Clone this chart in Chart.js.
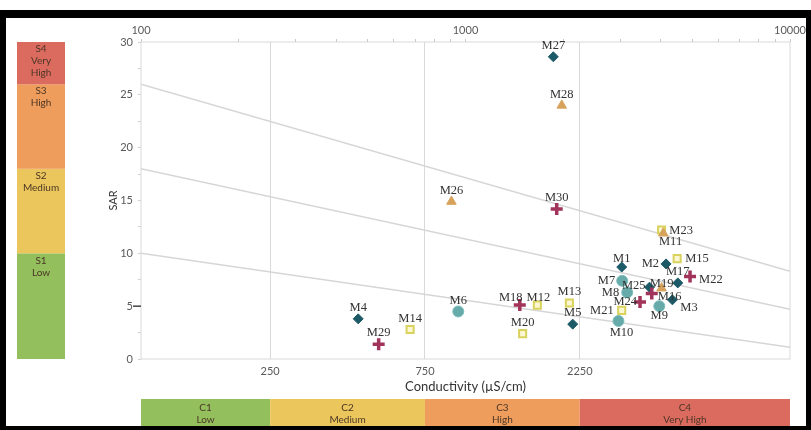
<!DOCTYPE html>
<html>
<head>
<meta charset="utf-8">
<title>Richards diagram</title>
<script src="https://cdn.jsdelivr.net/npm/chart.js@4.4.0/dist/chart.umd.min.js"></script>
<style>
  html, body { margin: 0; padding: 0; background: #fff; }
  #wrap { position: relative; width: 811px; height: 430px; overflow: hidden; }
  #chart { position: absolute; left: 0; top: 0; }
  .frame { position: absolute; background: #000; }
</style>
</head>
<body>
<div id="wrap">
  <canvas id="chart" width="811" height="430"></canvas>
  <div class="frame" style="left:0;top:10px;width:811px;height:8px"></div>
  <div class="frame" style="left:0;top:10px;width:6px;height:420px"></div>
  <div class="frame" style="left:806px;top:10px;width:5px;height:420px"></div>
  <div class="frame" style="left:0;top:426px;width:811px;height:4px"></div>
</div>
<script>
// sample groups (EC in µS/cm, SAR)
const diamondNames = ['M27', 'M4', 'M5', 'M1', 'M2', 'M17', 'M25', 'M3'];
const diamondEC = [1865, 467, 2140, 3030, 4150, 4510, 3690, 4340];
const diamondSAR = [28.6, 3.8, 3.3, 8.7, 9.0, 7.2, 6.8, 5.6];

const triangleNames = ['M28', 'M26', 'M23', 'M19'];
const triangleEC = [1980, 905, 4070, 4020];
const triangleSAR = [24.0, 14.9, 11.9, 6.7];

const plusNames = ['M30', 'M29', 'M18', 'M22', 'M24', 'M16'];
const plusEC = [1910, 540, 1470, 4920, 3450, 3750];
const plusSAR = [14.2, 1.4, 5.1, 7.8, 5.4, 6.2];

const squareNames = ['M14', 'M20', 'M12', 'M13', 'M15', 'M21', 'M11'];
const squareEC = [675, 1500, 1665, 2090, 4490, 3030, 4020];
const squareSAR = [2.8, 2.4, 5.1, 5.3, 9.5, 4.6, 12.2];

const circleNames = ['M6', 'M7', 'M8', 'M9', 'M10'];
const circleEC = [950, 3040, 3150, 3955, 2960];
const circleSAR = [4.5, 7.4, 6.3, 5.0, 3.6];

// sodium hazard boundary lines: SAR at EC = 100 and at EC = 10000
const boundaryStartSAR = [26, 18, 10];
const boundaryEndSAR = [8.3, 4.7, 1.1];

const topTicks = [100, 1000, 10000];
const bottomTicks = [250, 750, 2250];

const sBounds = [0, 10, 18, 26, 30];
const sClasses = [['S1', 'Low'], ['S2', 'Medium'], ['S3', 'High'], ['S4', 'Very', 'High']];
const cBounds = [100, 250, 750, 2250, 10000];
const cClasses = [['C1', 'Low'], ['C2', 'Medium'], ['C3', 'High'], ['C4', 'Very High']];
const classColors = ['#93bf5c', '#ebc65c', '#ef9d5c', '#dc6b5f'];

// where each label sits relative to its marker: [dx, dy, align]
const labelPlace = {
  M23: [6, -3, 'left'], M11: [9, 12, 'center'], M15: [8, 0, 'left'], M2: [-7, 0, 'right'],
  M22: [9, 3, 'left'], M7: [-7, 0, 'right'], M25: [-4, -1, 'right'], M19: [0, -4, 'center'],
  M16: [6, 3, 'left'], M8: [-8, 0, 'right'], M24: [-3, 0, 'right'], M3: [8, 8, 'left'],
  M9: [0, 10, 'center'], M21: [-8, 0, 'right'], M10: [3, 12, 'center'], M18: [-9, -7, 'center'],
  M12: [1, -7, 'center'], M1: [0, -8, 'center']
};

const toPoints = (xs, ys) => xs.map((x, i) => ({ x: x, y: ys[i] }));

const boundaryLines = boundaryStartSAR.map((s, i) => ({
  type: 'line',
  data: [{ x: 100, y: s }, { x: 10000, y: boundaryEndSAR[i] }],
  borderColor: '#d6d6d6',
  borderWidth: 1.5,
  pointRadius: 0,
  showLine: true,
  order: 10
}));

const ticksFont = { family: 'Lato', size: 11 };

const pointLabels = {
  id: 'pointLabels',
  afterDatasetsDraw(chart) {
    const ctx = chart.ctx;
    ctx.save();
    ctx.font = '12.5px "Liberation Serif"';
    ctx.fillStyle = '#333';
    ctx.textBaseline = 'middle';
    chart.data.datasets.forEach((ds, i) => {
      if (!ds.names) return;
      chart.getDatasetMeta(i).data.forEach((pt, j) => {
        const name = ds.names[j];
        const p = labelPlace[name] || [0, -11, 'center'];
        ctx.textAlign = p[2];
        ctx.fillText(name, pt.x + p[0], pt.y + p[1]);
      });
    });
    ctx.restore();
  }
};

const classBands = {
  id: 'classBands',
  beforeDatasetsDraw(chart) {
    const { ctx, chartArea } = chart;
    ctx.save();
    ctx.strokeStyle = '#d9d9d9';
    ctx.lineWidth = 1;
    ctx.strokeRect(chartArea.left, chartArea.top, chartArea.right - chartArea.left, chartArea.bottom - chartArea.top);
    ctx.restore();
  },
  afterDraw(chart) {
    const { ctx, chartArea } = chart;
    const xs = chart.scales.x, ys = chart.scales.y;
    ctx.save();
    ctx.font = '10px Lato';
    ctx.textAlign = 'center';
    ctx.textBaseline = 'middle';
    // salinity classes along the bottom
    for (let i = 0; i < cClasses.length; i++) {
      const x0 = xs.getPixelForValue(cBounds[i]);
      const x1 = xs.getPixelForValue(cBounds[i + 1]);
      ctx.fillStyle = classColors[i];
      ctx.fillRect(x0, 399, x1 - x0, 31);
      ctx.fillStyle = '#4b3626';
      cClasses[i].forEach((t, k) => ctx.fillText(t, (x0 + x1) / 2, 408 + k * 12));
    }
    // sodium classes on the left
    for (let i = 0; i < sClasses.length; i++) {
      const y0 = ys.getPixelForValue(sBounds[i + 1]);
      const y1 = ys.getPixelForValue(sBounds[i]);
      ctx.fillStyle = classColors[i];
      ctx.fillRect(17, y0, 48, y1 - y0);
      ctx.fillStyle = '#4b3626';
      sClasses[i].forEach((t, k) => ctx.fillText(t, 41, y0 + 7 + k * 12));
    }
    // odd dash at SAR 5
    const y5 = ys.getPixelForValue(5);
    ctx.strokeStyle = '#444';
    ctx.lineWidth = 1.5;
    ctx.beginPath();
    ctx.moveTo(chartArea.left - 8, y5);
    ctx.lineTo(chartArea.left, y5);
    ctx.stroke();
    ctx.restore();
  }
};

const minorTop = [];
[100, 1000].forEach(d => { for (let k = 1; k <= 9; k++) minorTop.push(k * d); });
minorTop.push(10000);

new Chart(document.getElementById('chart'), {
  type: 'scatter',
  data: {
    datasets: [
      ...boundaryLines,
      {
        names: squareNames, data: toPoints(squareEC, squareSAR),
        pointStyle: 'rect', pointRadius: 5, backgroundColor: '#fbf7d2', borderColor: '#d9d25c', borderWidth: 2, order: 5
      },
      {
        names: circleNames, data: toPoints(circleEC, circleSAR),
        pointStyle: 'circle', pointRadius: 5.5, backgroundColor: '#66aaa9', borderColor: '#7dbdbb', borderWidth: 1, order: 4
      },
      {
        names: diamondNames, data: toPoints(diamondEC, diamondSAR),
        pointStyle: 'rectRot', pointRadius: 5, backgroundColor: '#1d5a68', borderColor: '#1d5a68', borderWidth: 1, order: 3
      },
      {
        names: plusNames, data: toPoints(plusEC, plusSAR),
        pointStyle: 'cross', pointRadius: 6, borderColor: '#a2335a', borderWidth: 3.5, order: 2
      },
      {
        names: triangleNames, data: toPoints(triangleEC, triangleSAR),
        pointStyle: 'triangle', pointRadius: 5.5, backgroundColor: '#d7a35c', borderColor: '#d7a35c', borderWidth: 1, order: 1
      }
    ]
  },
  options: {
    responsive: false,
    animation: false,
    layout: { padding: { left: 103, right: 21, top: 18, bottom: 31 } },
    plugins: { legend: { display: false }, tooltip: { enabled: false } },
    scales: {
      x: {
        type: 'logarithmic', position: 'bottom', min: 100, max: 10000,
        afterBuildTicks: s => { s.ticks = bottomTicks.map(v => ({ value: v })); },
        afterFit: s => { s.height = 40; },
        grid: { color: '#d9d9d9', drawTicks: false },
        border: { display: false },
        ticks: { color: '#595959', font: ticksFont, padding: 6, maxRotation: 0, autoSkip: false, callback: v => String(v) },
        title: { display: true, text: 'Conductivity (µS/cm)', color: '#333', font: { family: 'Lato', size: 13 } }
      },
      x2: {
        type: 'logarithmic', position: 'top', min: 100, max: 10000,
        afterBuildTicks: s => { s.ticks = minorTop.map(v => ({ value: v })); },
        afterFit: s => { s.height = 24; },
        grid: { drawOnChartArea: false, tickLength: 3, color: '#c8c8c8' },
        border: { display: false },
        ticks: {
          color: '#595959', font: ticksFont, padding: 2, maxRotation: 0, autoSkip: false,
          callback: v => topTicks.includes(v) ? String(v) : ''
        }
      },
      y: {
        min: 0, max: 30,
        afterBuildTicks: s => { const t = []; for (let v = 0; v <= 30; v += 2.5) t.push({ value: v }); s.ticks = t; },
        afterFit: s => { s.width = 38; },
        grid: { drawOnChartArea: false, tickLength: 3, color: '#d0d0d0' },
        border: { display: false },
        ticks: { color: '#595959', font: ticksFont, padding: 5, callback: v => (v % 5 === 0 ? String(v) : '') },
        title: { display: true, text: 'SAR', color: '#333', font: { family: 'Lato', size: 11 } }
      }
    }
  },
  plugins: [pointLabels, classBands]
});
</script>
</body>
</html>
